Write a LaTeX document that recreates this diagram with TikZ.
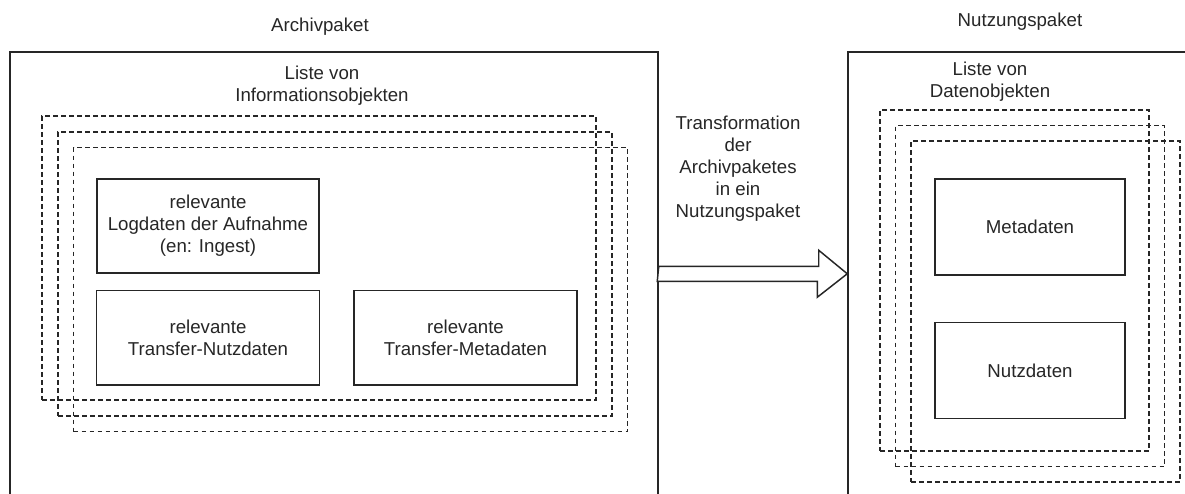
\documentclass[tikz,border=0pt]{standalone}
\usepackage{fontspec}
\setmainfont{Liberation Sans}
\usetikzlibrary{positioning}
\definecolor{ink}{HTML}{262626}

\begin{document}
\begin{tikzpicture}[
  x=0.75pt, y=-0.75pt,
  font=\fontsize{14}{16.5}\selectfont,
  every node/.style={text=ink},
  pkgbox/.style={draw=ink, line width=1.1pt, inner sep=0pt, minimum height=366pt},
  stackbox/.style={draw=ink, line width=1.1pt, dash pattern=on 3.6pt off 2.4pt, inner sep=0pt},
  objbox/.style={draw=ink, line width=1.1pt, align=center, inner sep=0pt},
  label/.style={align=center, inner sep=1pt},
  bigarrow/.style={draw=ink, line width=1.1pt, fill=white, line join=miter}
]
\useasboundingbox (0,0) rectangle (1185,493);
\clip (0,0) rectangle (1185,493);

% Packages
\node[pkgbox, minimum width=486pt] (archiv) at (334,296) {};
\node[pkgbox, minimum width=279pt] (nutzung) at (1034,296) {};
\node[label] (archivtitle) at (320,27) {Archivpaket};
\node[label] (nutzungtitle) at (1020,22) {Nutzungspaket};

% Archivpaket: stacked lists
\foreach \i/\o in {1/0,2/16,3/31.5}
  \node[stackbox, minimum width=415.5pt, minimum height=213pt] (info\i) at (319+\o,258+\o) {};
\node[label] (infolist) at (322,86) {Liste von\\Informationsobjekten};

\node[objbox, minimum width=166.5pt, minimum height=70.5pt] (logdata) at (208,226)
  {relevante\\Logdaten der Aufnahme\\(en: Ingest)};
\node[objbox, minimum width=167pt, minimum height=71pt, below=12pt of logdata] (tnutz)
  {relevante\\Transfer-Nutzdaten};
\node[objbox, minimum width=167pt, minimum height=71pt, right=25pt of tnutz] (tmeta)
  {relevante\\Transfer-Metadaten};

% Nutzungspaket: stacked lists
\foreach \i/\o in {1/0,2/15.5,3/31}
  \node[stackbox, minimum width=201.75pt, minimum height=255.75pt] (data\i) at (1014.5+\o,280.5+\o) {};
\node[label] (datalist) at (990,82) {Liste von\\Datenobjekten};

\node[objbox, minimum width=142.5pt, minimum height=72pt] (meta) at (1030,227) {Metadaten};
\node[objbox, minimum width=142.5pt, minimum height=72pt, below=34.5pt of meta] (nutz) {Nutzdaten};

% Transformation arrow
\path (archiv.north east) ++(0,222.5) coordinate (tail);
\path (nutzung.north west) ++(0,222.5) coordinate (tip);
\draw[bigarrow] (tail) ++(0,-7.5) -- ++(160,0) -- ++(0,-16) -- (tip)
  -- ++(-30,23.5) -- ++(0,-16) -- ++(-160,0) -- cycle;
\node[label] (transform) at (738,169)
  {Transformation\\der\\Archivpaketes\\in ein\\Nutzungspaket};

\end{tikzpicture}
\end{document}
